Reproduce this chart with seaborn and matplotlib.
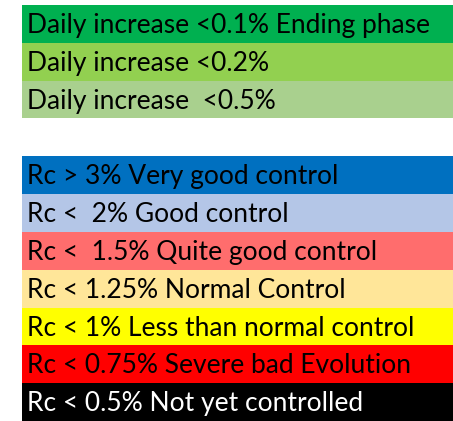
import matplotlib

matplotlib.use("Agg")
import matplotlib.pyplot as plt
import pandas as pd
import seaborn as sns

LABELS = [
    "Daily increase <0.1% Ending phase",
    "Daily increase <0.2%",
    "Daily increase  <0.5%",
    "",
    "Rc > 3% Very good control",
    "Rc <  2% Good control",
    "Rc <  1.5% Quite good control",
    "Rc < 1.25% Normal Control",
    "Rc < 1% Less than normal control",
    "Rc < 0.75% Severe bad Evolution",
    "Rc < 0.5% Not yet controlled",
]
FILLS = [
    "#00B050", "#92D050", "#A9D08E", "#FFFFFF",
    "#0070C0", "#B4C6E7", "#FF6D6D", "#FFE699",
    "#FFFF00", "#FF0000", "#000000",
]
TEXT_COLORS = ["black"] * 10 + ["white"]
SPAN = [1, 1, 1, 0, 1, 1, 1, 1, 1, 1, 1]

sns.set_theme(style="white")
plt.rcParams["font.family"] = ["Lato", "DejaVu Sans"]

frame = pd.DataFrame({"row": [f"r{i}" for i in range(len(LABELS))], "span": SPAN})

fig = plt.figure(figsize=(4.53, 4.21), dpi=100)
ax = fig.add_axes([22 / 453, 0, 1 - 22 / 453, 416 / 421])
sns.barplot(
    data=frame, x="span", y="row", hue="row", palette=FILLS,
    width=1.0, legend=False, ax=ax, saturation=1, linewidth=0,
)
for i, (label, color) in enumerate(zip(LABELS, TEXT_COLORS)):
    ax.text(0.012, i + 0.24, label, color=color, fontsize=19, va="baseline", ha="left")

ax.set_xlim(0, 1)
ax.set_ylim(len(LABELS) - 0.5, -0.5)
ax.set_xlabel("")
ax.set_ylabel("")
ax.set_xticks([])
ax.set_yticks([])
sns.despine(ax=ax, left=True, bottom=True)
fig.savefig("out.png", dpi=100)
